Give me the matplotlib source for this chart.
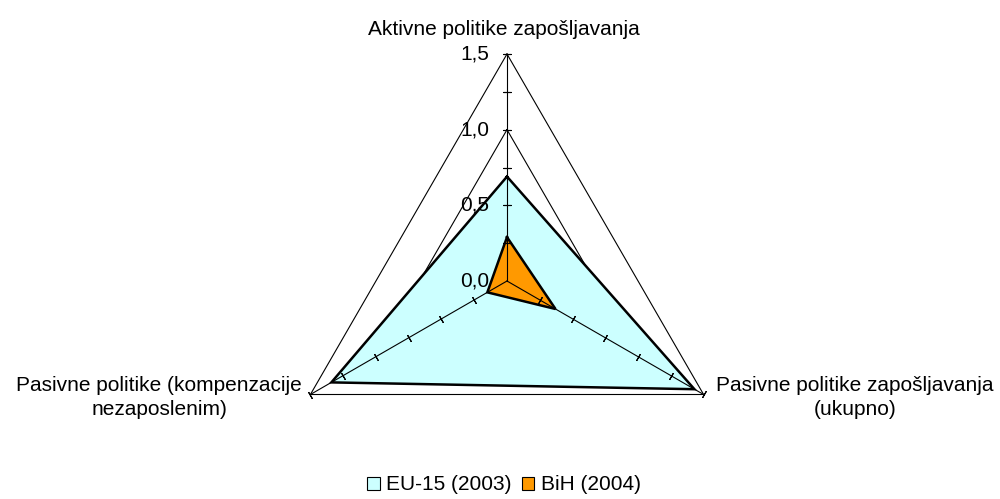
import numpy as np
import matplotlib
matplotlib.use("Agg")
import matplotlib.pyplot as plt
from matplotlib.patches import Patch

plt.rcParams['font.family'] = ['Liberation Sans', 'DejaVu Sans']

categories = ["Aktivne politike zapošljavanja",
              "Pasivne politike zapošljavanja\n(ukupno)",
              "Pasivne politike (kompenzacije\nnezaposlenim)"]
eu15 = [0.69, 1.43, 1.34]
bih = [0.29, 0.37, 0.15]
series_names = ["EU-15 (2003)", "BiH (2004)"]
tick_vals = [0.0, 0.5, 1.0, 1.5]
tick_labels = ["0,0", "0,5", "1,0", "1,5"]
minor_vals = [0.25, 0.5, 0.75, 1.0, 1.25, 1.5]

FS = 15
W, H = 1000, 499
fig = plt.figure(figsize=(W / 100, H / 100), dpi=100)
cx, cy, R = 507, 281, 227
ax = fig.add_axes([(cx - R) / W, (H - cy - R) / H, 2 * R / W, 2 * R / H], projection='polar')
ax.set_theta_offset(np.pi / 2)
ax.set_theta_direction(-1)
ax.set_ylim(0, 1.5)
ax.grid(False)
ax.set_xticks([])
ax.set_yticks([])
ax.spines['polar'].set_visible(False)
ax.patch.set_visible(False)

n = len(categories)
angles = [2 * np.pi * i / n for i in range(n)]
closed = angles + angles[:1]

# gridlines (polygons)
for g in [0.5, 1.0, 1.5]:
    ax.plot(closed, [g] * (n + 1), color='black', lw=0.8, zorder=1, clip_on=False)

# series
colors = ['#CCFFFF', '#FF9900']
for vals, c, z in [(eu15, colors[0], 2), (bih, colors[1], 3)]:
    v = list(vals) + [vals[0]]
    ax.fill(closed, v, facecolor=c, edgecolor='none', zorder=z, clip_on=False)
    ax.plot(closed, v, color='black', lw=1.8, zorder=z + 0.5, clip_on=False,
            solid_joinstyle='miter')

# spokes and ticks
rots = [90, -30, 30]
for a, rot in zip(angles, rots):
    ax.plot([a, a], [0, 1.5], color='black', lw=0.8, zorder=5, clip_on=False)
    ax.plot([a] * len(minor_vals), minor_vals, linestyle='none',
            marker=(2, 2, rot), ms=5.5, mew=0.8, color='black', zorder=5, clip_on=False)

# radial labels
for v, lab in zip(tick_vals, tick_labels):
    ax.annotate(lab, xy=(0, v), xytext=(-13, 0), textcoords='offset points',
                ha='right', va='center', fontsize=FS, zorder=6, annotation_clip=False)

# category labels
offsets = [((-2, 17.5), 'center', 'center'), ((9, -2), 'left', 'center'), ((-6, -2), 'right', 'center')]
for a, lab, (off, ha, va) in zip(angles, categories, offsets):
    ax.annotate(lab, xy=(a, 1.5), xytext=off, textcoords='offset points',
                ha=ha, va=va, multialignment='center', fontsize=FS,
                linespacing=1.3, annotation_clip=False)

handles = [Patch(facecolor=c, edgecolor='black', lw=0.8) for c in colors]
fig.legend(handles, series_names, loc='center', bbox_to_anchor=(0.504, 1 - 485 / H),
           ncol=2, frameon=False, fontsize=FS, handlelength=0.6, handleheight=0.6,
           handletextpad=0.3, columnspacing=0.5, borderaxespad=0)

fig.savefig('out.png', dpi=100)
